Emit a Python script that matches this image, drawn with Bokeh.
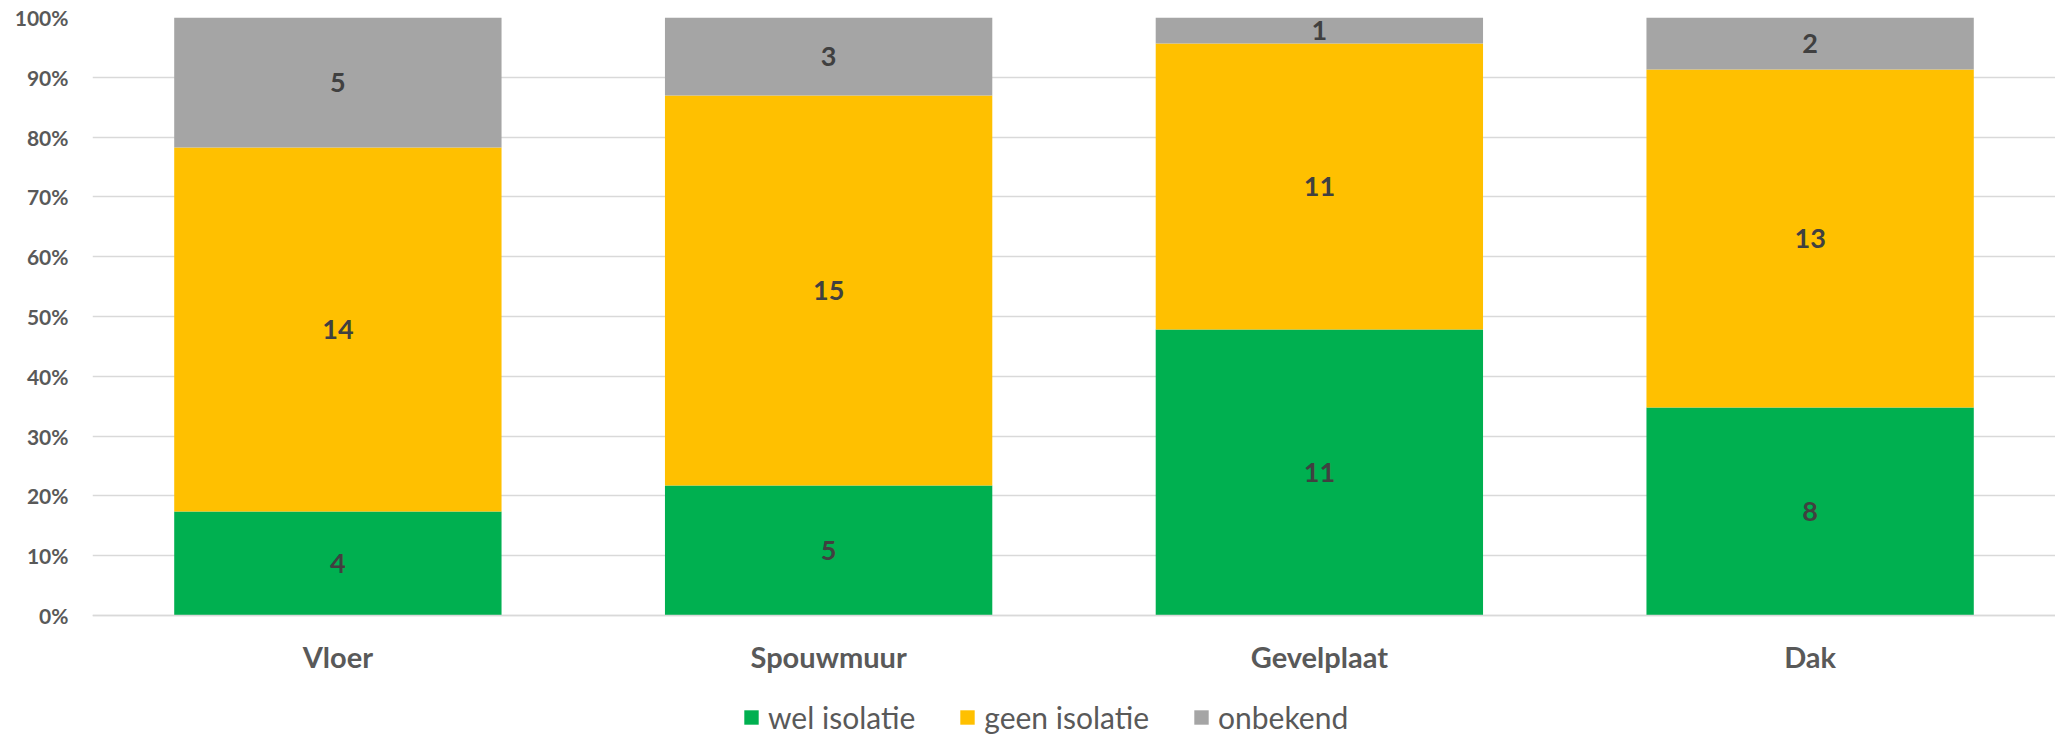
from bokeh.plotting import figure
from bokeh.models import ColumnDataSource, NumeralTickFormatter, FixedTicker, Legend, LegendItem, FactorRange, Range1d
from bokeh.core.properties import value
from bokeh.embed import file_html
from bokeh.resources import INLINE

categories = ["Vloer", "Spouwmuur", "Gevelplaat", "Dak"]
series = ["wel isolatie", "geen isolatie", "onbekend"]
wel_isolatie = [4, 5, 11, 8]
geen_isolatie = [14, 15, 11, 13]
onbekend = [5, 3, 1, 2]
colors = ["#00B050", "#FFC000", "#A5A5A5"]
y_ticks = [0, 0.1, 0.2, 0.3, 0.4, 0.5, 0.6, 0.7, 0.8, 0.9, 1.0]

FONT = "Lato"

totals = [a + b + c for a, b, c in zip(wel_isolatie, geen_isolatie, onbekend)]
pw = [a / t for a, t in zip(wel_isolatie, totals)]
pg = [b / t for b, t in zip(geen_isolatie, totals)]
po = [c / t for c, t in zip(onbekend, totals)]

src = ColumnDataSource(dict(cat=categories, w=pw, g=pg, o=po))

# frame spans 17..735 px; the 0% line sits at 615 px (room below for labels & legend)
p = figure(x_range=FactorRange(factors=categories, range_padding=0),
           y_range=Range1d(-120 / 598, 1),
           width=2055, height=735, output_backend="svg", toolbar_location=None,
           min_border_left=92, min_border_right=0, min_border_top=17, min_border_bottom=0)
p.outline_line_color = None
p.background_fill_color = "white"

rs = p.vbar_stack(["w", "g", "o"], x="cat", width=0.667, source=src,
                  color=colors, line_color=None)

# segment labels
lab_x, lab_y, lab_t = [], [], []
for i, c in enumerate(categories):
    base = 0.0
    for frac, cnt in ((pw[i], wel_isolatie[i]), (pg[i], geen_isolatie[i]), (po[i], onbekend[i])):
        lab_x.append(c)
        lab_y.append(base + frac / 2)
        lab_t.append(str(cnt))
        base += frac
p.text(x=lab_x, y=lab_y, text=lab_t, text_align="center", text_baseline="middle",
       text_font=value(FONT), text_font_style="bold", text_font_size="27px", text_color="#404040")

p.yaxis.ticker = FixedTicker(ticks=y_ticks)
p.yaxis.formatter = NumeralTickFormatter(format="0%")
p.yaxis.axis_line_color = None
p.yaxis.major_tick_line_color = None
p.yaxis.minor_tick_line_color = None
p.yaxis.major_label_text_font = FONT
p.yaxis.major_label_text_font_style = "bold"
p.yaxis.major_label_text_font_size = "21px"
p.yaxis.major_label_text_color = "#595959"
p.yaxis.major_label_standoff = 18

p.xaxis.fixed_location = 0
p.xaxis.axis_line_color = "#d9d9d9"
p.xaxis.axis_line_width = 1.5
p.xaxis.major_tick_line_color = None
p.xaxis.minor_tick_line_color = None
p.xaxis.major_label_text_font = FONT
p.xaxis.major_label_text_font_style = "bold"
p.xaxis.major_label_text_font_size = "29px"
p.xaxis.major_label_text_color = "#595959"
p.xaxis.major_label_standoff = 17

p.xgrid.grid_line_color = None
p.ygrid.ticker = FixedTicker(ticks=y_ticks)
p.ygrid.grid_line_color = "#d9d9d9"
p.ygrid.grid_line_width = 1.5
p.ygrid.level = "underlay"

legend = Legend(items=[LegendItem(label=s, renderers=[r]) for s, r in zip(series, rs)],
                orientation="horizontal", location=(650, 0))
legend.label_text_font = FONT
legend.label_text_font_size = "30px"
legend.label_text_color = "#595959"
legend.glyph_width = 18
legend.glyph_height = 18
legend.label_standoff = 8
legend.spacing = 43
legend.border_line_color = None
legend.background_fill_alpha = 0
legend.padding = 0
legend.margin = 0
p.add_layout(legend, "center")

open("out.html", "w").write(file_html(p, INLINE))
